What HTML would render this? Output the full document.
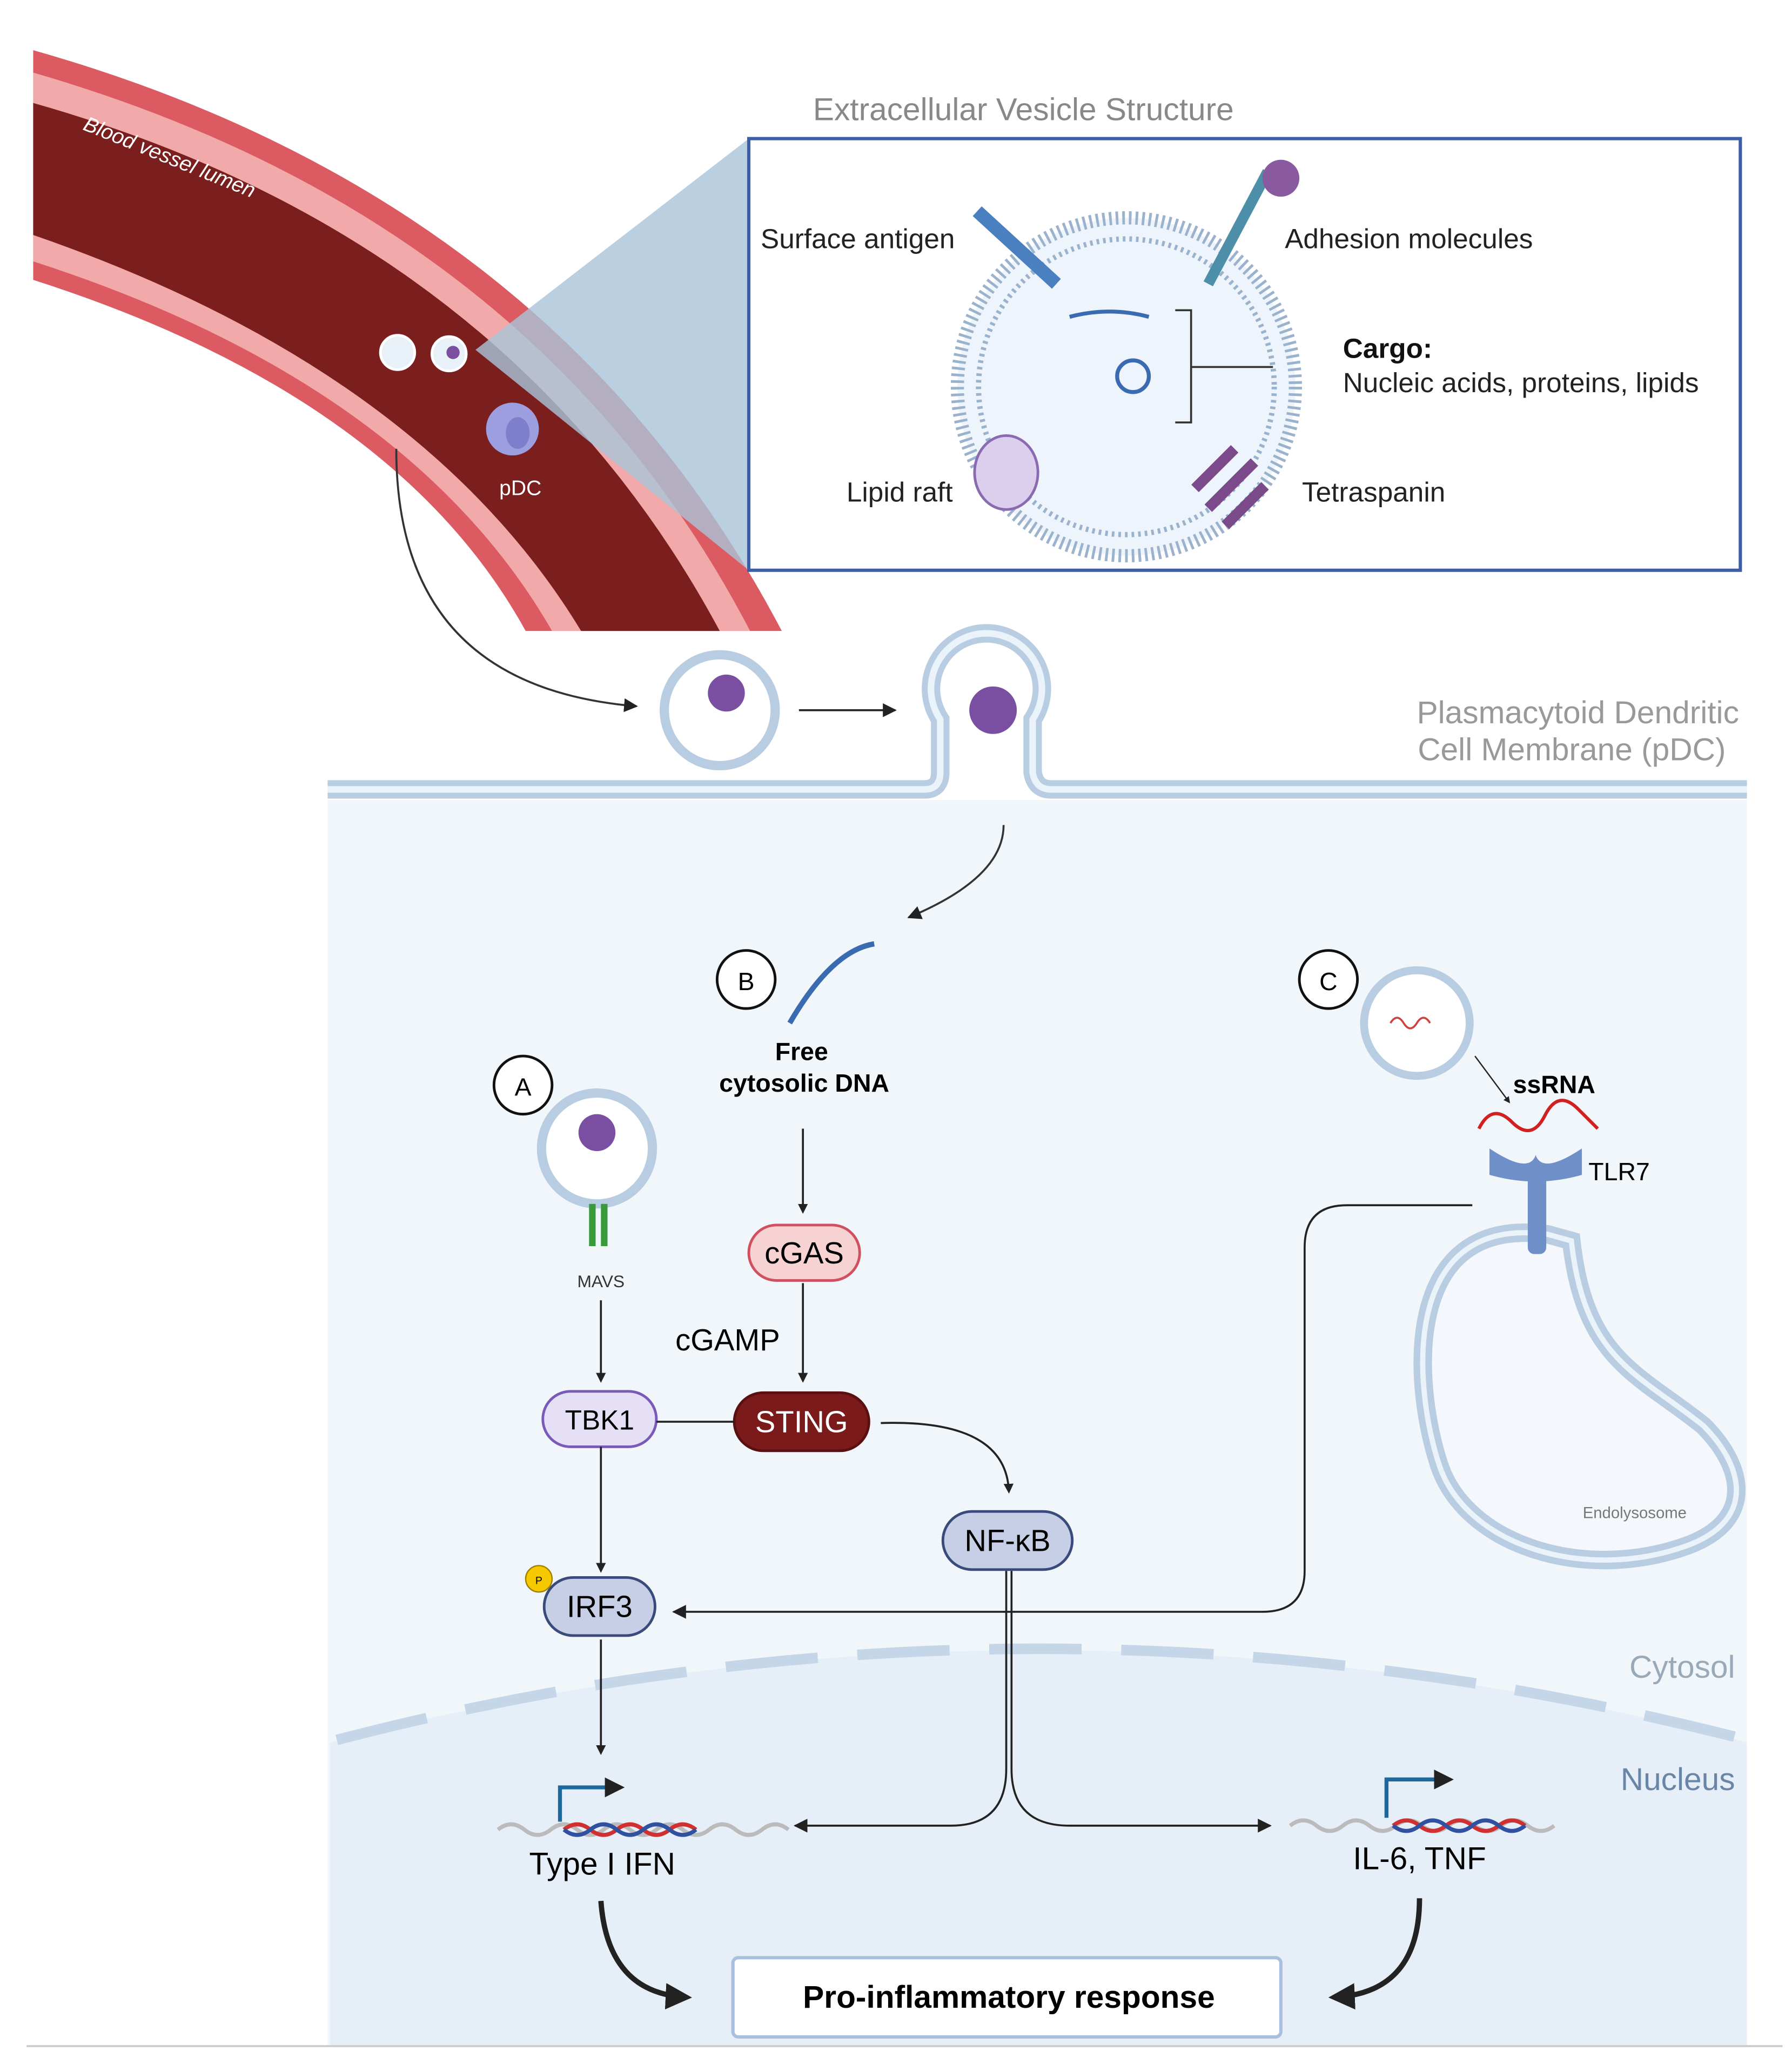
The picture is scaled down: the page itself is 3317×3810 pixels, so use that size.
<!DOCTYPE html>
<html><head><meta charset="utf-8"><style>
html,body{margin:0;padding:0;background:#fff}
svg{display:block}
text{font-family:"Liberation Sans",sans-serif}
</style></head><body>
<svg width="3317" height="3810" viewBox="0 0 1357 1559" xmlns="http://www.w3.org/2000/svg">
<defs>
<marker id="ar" viewBox="0 0 10 10" refX="9" refY="5" markerWidth="7" markerHeight="7" orient="auto"><path d="M0,0 L10,5 L0,10 z" fill="#222"/></marker>
<marker id="arb" viewBox="0 0 10 10" refX="8" refY="5" markerWidth="5" markerHeight="5" orient="auto"><path d="M0,0 L10,5 L0,10 z" fill="#222"/></marker>
</defs>
<rect width="1357" height="1559" fill="#fff"/>
<!-- blood vessel -->
<path d="M25,38 Q420,150 592,478 L398,478 Q300,300 25,212 Z" fill="#dc5b63"/>
<path d="M25,55 Q405,165 568,478 L418,478 Q310,290 25,198 Z" fill="#f2a9aa"/>
<path d="M25,78 Q385,180 545,478 L440,478 Q320,280 25,178 Z" fill="#7a1e1e"/>
<text x="62" y="98" fill="#fff" font-size="16" font-style="italic" transform="rotate(22 62 98)">Blood vessel lumen</text>
<!-- zoom triangle -->
<polygon points="360,265 567,105 567,432" fill="#a9c4d8" opacity="0.8"/>
<circle cx="301" cy="267" r="13" fill="#e8f0f8" stroke="#fff" stroke-width="2"/>
<circle cx="340" cy="268" r="13" fill="#e8f0f8" stroke="#fff" stroke-width="2"/>
<circle cx="343" cy="267" r="5" fill="#7b4ea0"/>
<circle cx="388" cy="325" r="20" fill="#9d9ee0"/>
<ellipse cx="392" cy="328" rx="9" ry="12" fill="#7d7ecc"/>
<text x="378" y="375" fill="#fff" font-size="16">pDC</text>
<!-- EV box -->
<text x="775" y="91" fill="#888" font-size="24" text-anchor="middle">Extracellular Vesicle Structure</text>
<rect x="567" y="105" width="751" height="327" fill="#fff" stroke="#3d5ea6" stroke-width="2.5"/>
<circle cx="853" cy="293" r="128" fill="#eef4fb" stroke="#9ab2cc" stroke-width="10" stroke-dasharray="2 3"/>
<circle cx="853" cy="293" r="112" fill="#eef4fb" stroke="#9ab2cc" stroke-width="4" stroke-dasharray="2 3"/>
<path d="M740,160 L800,215" stroke="#4a7fc0" stroke-width="10"/>
<path d="M960,130 L915,215" stroke="#4d8ea8" stroke-width="8"/>
<circle cx="970" cy="135" r="14" fill="#8a5aa0"/>
<ellipse cx="762" cy="358" rx="24" ry="28" fill="#dccfee" stroke="#8a6ab0" stroke-width="2"/>
<path d="M905,370 l30,-30 M915,385 l35,-35 M928,398 l30,-30" stroke="#7a4a8a" stroke-width="8"/>
<path d="M810,240 q30,-8 60,0" stroke="#3a6ab0" stroke-width="3" fill="none"/>
<circle cx="858" cy="285" r="12" fill="none" stroke="#3a6ab0" stroke-width="3"/>
<path d="M890,235 h12 v85 h-12 M902,278 h62" stroke="#333" fill="none" stroke-width="1.5"/>
<text x="576" y="188" font-size="21" fill="#222">Surface antigen</text>
<text x="973" y="188" font-size="21" fill="#222">Adhesion molecules</text>
<text x="1017" y="271" font-size="21" fill="#111" font-weight="bold">Cargo:</text>
<text x="1017" y="297" font-size="21" fill="#222">Nucleic acids, proteins, lipids</text>
<text x="641" y="380" font-size="21" fill="#222">Lipid raft</text>
<text x="986" y="380" font-size="21" fill="#222">Tetraspanin</text>
<!-- cell -->
<rect x="248" y="606" width="1075" height="944" fill="#f1f6fb"/>
<path d="M250,1320 Q786,1180 1323,1320 L1323,1550 L250,1550 Z" fill="#e6eef7"/>
<path d="M255,1318 Q786,1180 1323,1318" stroke="#c5d6e8" stroke-width="8" fill="none" stroke-dasharray="70 30"/>
<path d="M248,598 H700 Q712,598 712,585 V545 A42,42 0 1 1 782,545 V585 Q784,598 796,598 H1323" stroke="#b9cde2" stroke-width="14" fill="none"/>
<path d="M248,598 H700 Q712,598 712,585 V545 A42,42 0 1 1 782,545 V585 Q784,598 796,598 H1323" stroke="#eaf2fa" stroke-width="5" fill="none"/>
<text x="1317" y="548" font-size="24" fill="#999" text-anchor="end">Plasmacytoid Dendritic</text>
<text x="1307" y="576" font-size="24" fill="#999" text-anchor="end">Cell Membrane (pDC)</text>
<circle cx="545" cy="538" r="42" fill="#fff" stroke="#b9cde2" stroke-width="7"/>
<circle cx="550" cy="525" r="14" fill="#7a4ea0"/>
<circle cx="752" cy="538" r="18" fill="#7a4ea0"/>
<path d="M300,340 Q300,520 482,535" stroke="#333" stroke-width="1.5" fill="none" marker-end="url(#ar)"/>
<path d="M605,538 H678" stroke="#222" stroke-width="1.5" marker-end="url(#ar)"/>
<path d="M760,625 Q760,665 688,695" stroke="#333" stroke-width="1.5" fill="none" marker-end="url(#ar)"/>
<text x="1314" y="1271" font-size="24" fill="#9aa9b8" text-anchor="end">Cytosol</text>
<text x="1314" y="1356" font-size="24" fill="#6a86a6" text-anchor="end">Nucleus</text>
<!-- B -->
<circle cx="565" cy="742" r="22" fill="#fff" stroke="#111" stroke-width="2"/><text x="565" y="750" font-size="19" text-anchor="middle">B</text>
<path d="M598,775 Q630,720 662,715" stroke="#3a6ab0" stroke-width="4" fill="none"/>
<text x="607" y="803" font-size="19" font-weight="bold" text-anchor="middle">Free</text>
<text x="609" y="827" font-size="19" font-weight="bold" text-anchor="middle">cytosolic DNA</text>
<path d="M608,855 V918" stroke="#222" stroke-width="1.5" marker-end="url(#arb)"/>
<rect x="567" y="928" width="84" height="42" rx="21" fill="#f6d2d2" stroke="#d05060" stroke-width="2"/>
<text x="609" y="957" font-size="23" text-anchor="middle">cGAS</text>
<path d="M608,972 V1046" stroke="#222" stroke-width="1.5" marker-end="url(#arb)"/>
<text x="551" y="1023" font-size="23" text-anchor="middle">cGAMP</text>
<rect x="556" y="1055" width="102" height="44" rx="22" fill="#7a1a1a" stroke="#5a1010" stroke-width="2"/>
<text x="607" y="1085" font-size="23" fill="#fff" text-anchor="middle">STING</text>
<!-- A -->
<circle cx="396" cy="822" r="22" fill="#fff" stroke="#111" stroke-width="2"/><text x="396" y="830" font-size="19" text-anchor="middle">A</text>
<circle cx="452" cy="870" r="42" fill="#fff" stroke="#b9cde2" stroke-width="7"/>
<circle cx="452" cy="858" r="14" fill="#7a4ea0"/>
<rect x="446" y="912" width="5" height="32" fill="#3a9a3a"/><rect x="455" y="912" width="5" height="32" fill="#3a9a3a"/>
<text x="455" y="975" font-size="13" text-anchor="middle" fill="#333">MAVS</text>
<path d="M455,985 V1046" stroke="#222" stroke-width="1.5" marker-end="url(#arb)"/>
<rect x="411" y="1054" width="86" height="42" rx="21" fill="#e6e0f6" stroke="#7a5ab8" stroke-width="2"/>
<text x="454" y="1083" font-size="21" text-anchor="middle">TBK1</text>
<path d="M497,1077 H556" stroke="#222" stroke-width="1.5"/>
<path d="M455,1096 V1190" stroke="#222" stroke-width="1.5" marker-end="url(#arb)"/>
<rect x="412" y="1195" width="84" height="44" rx="22" fill="#c6cfe6" stroke="#3a4a7a" stroke-width="2"/>
<text x="454" y="1225" font-size="23" text-anchor="middle">IRF3</text>
<circle cx="408" cy="1196" r="10" fill="#f5c800" stroke="#a08000"/><text x="408" y="1200" font-size="8" text-anchor="middle">P</text>
<path d="M455,1242 V1328" stroke="#222" stroke-width="1.5" marker-end="url(#arb)"/>
<path d="M667,1078 Q762,1075 764,1130" stroke="#222" stroke-width="1.5" fill="none" marker-end="url(#arb)"/>
<rect x="714" y="1145" width="98" height="44" rx="22" fill="#c6cfe6" stroke="#3a4a7a" stroke-width="2"/>
<text x="763" y="1175" font-size="23" text-anchor="middle">NF-κB</text>
<path d="M762,1190 V1340 Q762,1383 720,1383 H602" stroke="#222" stroke-width="1.5" fill="none" marker-end="url(#ar)"/>
<path d="M766,1190 V1340 Q766,1383 810,1383 H962" stroke="#222" stroke-width="1.5" fill="none" marker-end="url(#ar)"/>
<!-- C -->
<circle cx="1006" cy="742" r="22" fill="#fff" stroke="#111" stroke-width="2"/><text x="1006" y="750" font-size="19" text-anchor="middle">C</text>
<circle cx="1073" cy="775" r="40" fill="#fff" stroke="#b9cde2" stroke-width="6"/>
<path d="M1053,775 q5,-8 10,0 t10,0 t10,0" stroke="#d04040" stroke-width="1.5" fill="none"/>
<path d="M1117,800 L1143,835" stroke="#222" stroke-width="1" marker-end="url(#arb)"/>
<text x="1177" y="828" font-size="19" font-weight="bold" text-anchor="middle">ssRNA</text>
<path d="M1120,855 q10,-20 25,-5 t25,-5 t25,-5 t15,15" stroke="#d02020" stroke-width="2.5" fill="none"/>
<path d="M1172,935 C1060,920 1070,1050 1090,1110 C1110,1170 1200,1200 1280,1170 C1330,1150 1320,1110 1290,1080 C1240,1040 1200,1030 1190,940 Z" fill="#f4f8fc" stroke="#b9cde2" stroke-width="14"/>
<path d="M1172,935 C1060,920 1070,1050 1090,1110 C1110,1170 1200,1200 1280,1170 C1330,1150 1320,1110 1290,1080 C1240,1040 1200,1030 1190,940 Z" fill="none" stroke="#eaf2fa" stroke-width="4"/>
<path d="M1128,870 q30,20 35,5 q5,15 35,-5 v20 q-35,10 -70,0 z" fill="#6f8fc8"/>
<rect x="1157" y="890" width="14" height="60" rx="5" fill="#6f8fc8"/>
<text x="1203" y="894" font-size="19" text-anchor="start">TLR7</text>
<text x="1238" y="1150" font-size="12" fill="#777" text-anchor="middle">Endolysosome</text>
<path d="M1115,913 H1020 Q988,913 988,945 V1190 Q988,1221 956,1221 H510" stroke="#222" stroke-width="1.5" fill="none" marker-end="url(#ar)"/>
<!-- genes -->
<path d="M377,1386 q10,-8 20,0 t20,0 t20,0 t20,0 t20,0 t20,0 t20,0 t20,0 t20,0 t20,0 t20,0" stroke="#bbb" stroke-width="3" fill="none"/>
<path d="M427,1386 q10,-8 20,0 t20,0 t20,0 t20,0 t20,0" stroke="#d03030" stroke-width="3" fill="none"/>
<path d="M427,1386 q10,8 20,0 t20,0 t20,0 t20,0 t20,0" stroke="#3050a0" stroke-width="3" fill="none"/>
<path d="M424,1380 V1354 H470" stroke="#1a6aa0" stroke-width="3" fill="none" marker-end="url(#arb)"/>
<text x="456" y="1420" font-size="24" text-anchor="middle">Type I IFN</text>
<path d="M977,1383 q10,-8 20,0 t20,0 t20,0 t20,0 t20,0 t20,0 t20,0 t20,0 t20,0 t20,0" stroke="#bbb" stroke-width="3" fill="none"/>
<path d="M1055,1383 q10,-8 20,0 t20,0 t20,0 t20,0 t20,0" stroke="#d03030" stroke-width="3" fill="none"/>
<path d="M1055,1383 q10,8 20,0 t20,0 t20,0 t20,0 t20,0" stroke="#3050a0" stroke-width="3" fill="none"/>
<path d="M1050,1377 V1348 H1098" stroke="#1a6aa0" stroke-width="3" fill="none" marker-end="url(#arb)"/>
<text x="1075" y="1416" font-size="24" text-anchor="middle">IL-6, TNF</text>
<path d="M455,1440 Q460,1510 520,1513" stroke="#222" stroke-width="4" fill="none" marker-end="url(#arb)"/>
<path d="M1075,1438 Q1075,1510 1010,1513" stroke="#222" stroke-width="4" fill="none" marker-end="url(#arb)"/>
<rect x="555" y="1483" width="415" height="60" rx="4" fill="#fff" stroke="#a8c0de" stroke-width="2.5"/>
<text x="764" y="1521" font-size="24" font-weight="bold" text-anchor="middle">Pro-inflammatory response</text>
<path d="M20,1550 H1350" stroke="#ccc" stroke-width="1.5"/>
</svg>
</body></html>
